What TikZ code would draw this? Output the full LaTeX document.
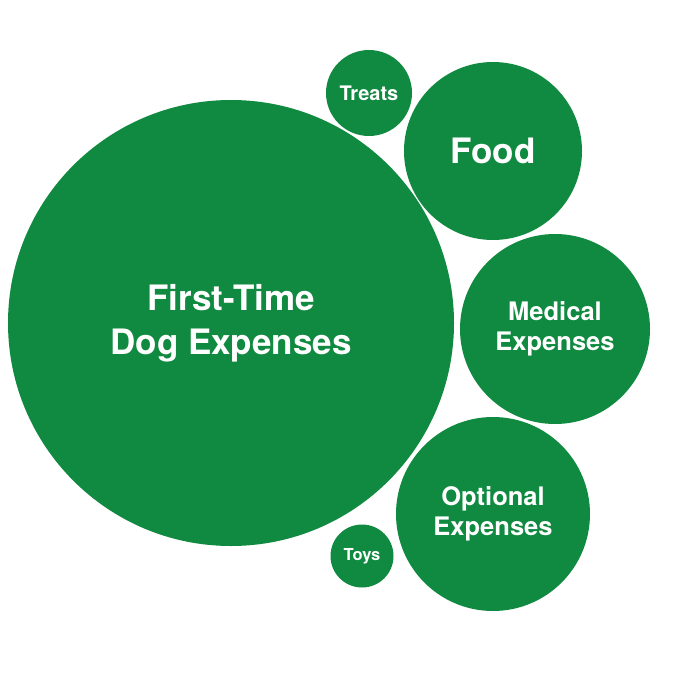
\documentclass[tikz,border=0pt]{standalone}
\usepackage{fontspec}
\setmainfont{TeX Gyre Heros}
\definecolor{bubblegreen}{RGB}{16,138,64}

\begin{document}
\begin{tikzpicture}[x=1pt, y=-1pt,
    bubble/.style={circle, fill=bubblegreen, text=white, inner sep=0pt, align=center}]

\useasboundingbox (0,0) rectangle (674,674);

% Main bubble
\node[bubble, minimum size=446pt, font=\fontsize{35}{44}\selectfont\bfseries] (main) at (231,323) {First-Time\\Dog Expenses};

% Right bubbles
\node[bubble, minimum size=178pt, font=\fontsize{35}{40}\selectfont\bfseries] (food) at (493,151) {Food};
\node[bubble, minimum size=190pt, font=\fontsize{25.5}{30}\selectfont\bfseries] (medical) at (555,329) {Medical\\Expenses};
\node[bubble, minimum size=194pt, font=\fontsize{25.5}{30}\selectfont\bfseries] (optional) at (493,514) {Optional\\Expenses};

% Small bubbles
\node[bubble, minimum size=86pt, font=\fontsize{20}{22}\selectfont\bfseries] (treats) at (369,93) {Treats};
\node[bubble, minimum size=63pt, font=\fontsize{16.5}{18}\selectfont\bfseries] (toys) at (362,556) {Toys};

\end{tikzpicture}
\end{document}
